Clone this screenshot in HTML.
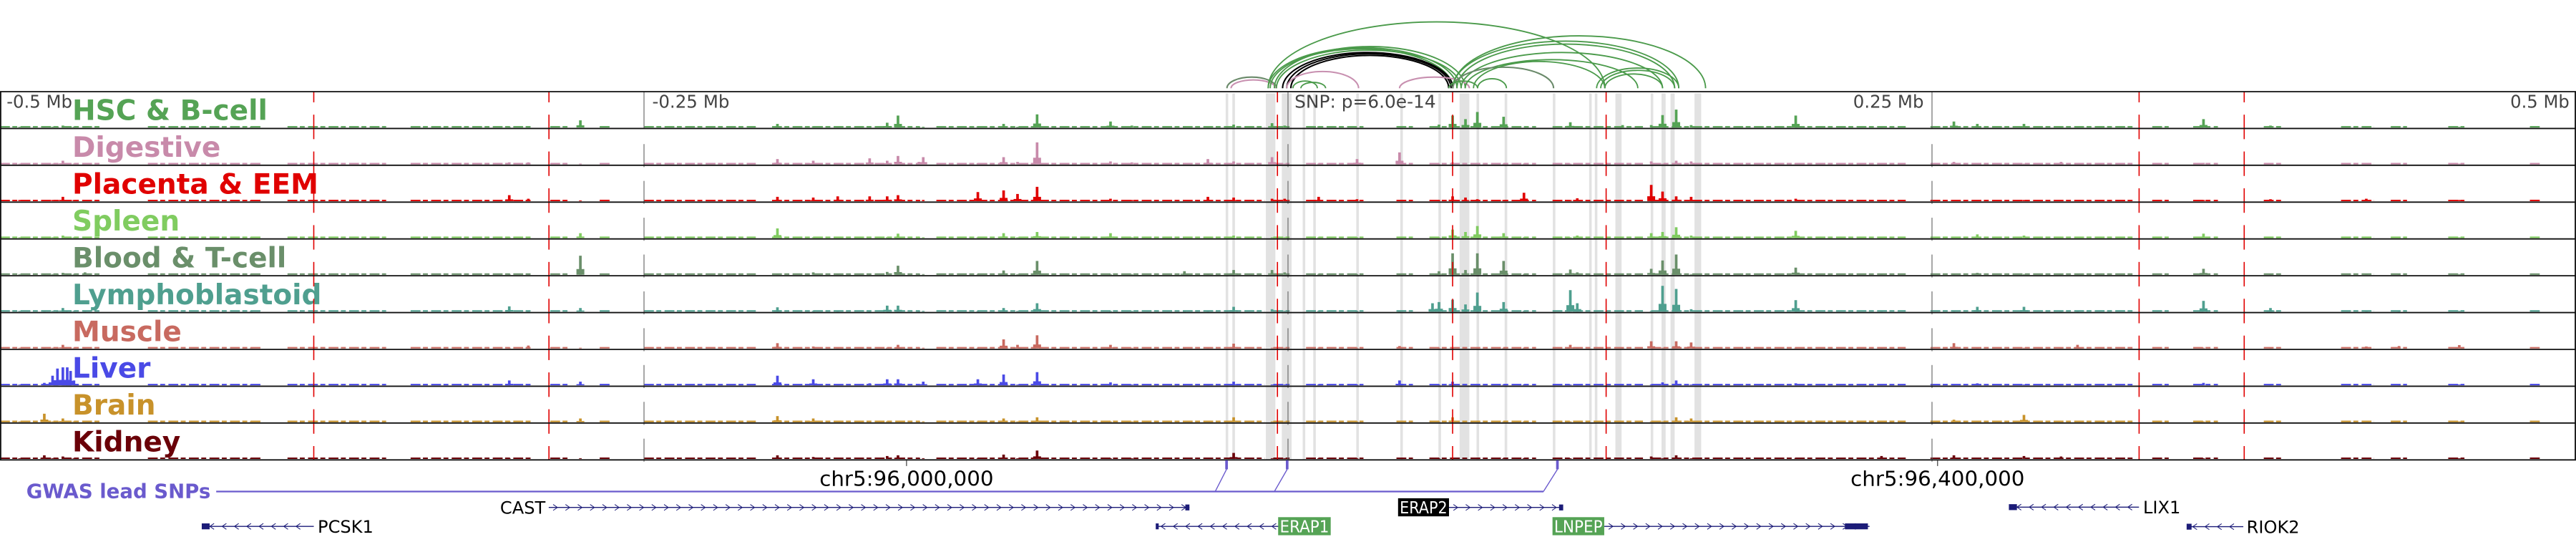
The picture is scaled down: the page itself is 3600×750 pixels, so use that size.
<!DOCTYPE html>
<html><head><meta charset="utf-8"><title>Locus tracks</title>
<style>
html,body{margin:0;padding:0;background:#fff;}
svg{display:block;}
text{font-family:"DejaVu Sans","Liberation Sans",sans-serif;}
</style></head>
<body>
<svg id="chart" width="3600" height="750" viewBox="0 0 1568 326.67" xmlns="http://www.w3.org/2000/svg">
<g id="bands"></g>
<g id="arcs"></g>
<g id="tracks"></g>
<g id="overlay"></g>
<g id="genes"></g>
</svg>
<script>
// ---- data (genomic offsets in kb relative to lead SNP) ----
const peakKb = [-492.4,-482.8,-479.6,-477.7,-475.6,-473.9,-472.6,-471.3,-467,-402.5,
 -302.3,-294.9,-274.7,-198.2,-184.3,-174.8,-162.4,-155.6,-151.4,-143.3,
 -141.6,-120.4,-110.4,-105,-97.4,-68.9,-60.6,-40.2,-31.1,-21.1,
 -6.2,-1.3,11.9,26.8,43.3,56.1,58.6,63.9,68.9,73.5,
 83.7,91.6,109.6,112.3,129.9,141,145.4,150.7,156.5,197.1,
 230.4,258.5,267.6,285.7,300.1,306.5,355.4,381.4,418.6,431.3,454.7];
const trackNames = ["HSC & B-cell","Digestive","Placenta & EEM","Spleen","Blood & T-cell","Lymphoblastoid","Muscle","Liver","Brain","Kidney"];
const hscVals = [3,3,3,3,8,3,3,3,3,3, 3,3,30,15,5,3,5,20,50,3, 3,5,15,3,55,25,8,5,3,12, 18,8,5,0,5,0,12,50,35,65, 45,0,22,5,10,10,52,75,10,50, 3,25,15,15,3,3,35,8,3,3,3];
const digVals = [3,3,3,3,15,3,3,3,3,3, 8,8,3,22,15,3,25,15,35,10, 30,5,30,10,92,12,8,3,22,12, 30,3,3,22,50,0,3,8,5,3, 3,3,3,3,3,12,3,15,12,5, 3,10,3,3,10,3,6,3,3,3,3];
const plaVals = [5,5,5,5,18,5,5,5,5,3, 25,10,3,18,15,20,20,20,25,5, 5,38,45,30,60,10,5,5,18,15, 10,10,18,8,3,0,5,20,15,8, 5,35,5,12,5,68,40,20,18,10, 5,5,5,5,5,5,5,8,10,3,5];
const splVals = [3,3,3,3,10,3,3,3,3,3, 3,3,20,40,3,3,3,3,18,3, 3,3,20,3,25,20,3,3,3,10, 3,3,3,3,3,0,3,35,25,50, 20,3,3,10,3,20,25,45,10,30, 3,3,15,10,3,3,18,3,3,3,3];
const bloVals = [3,3,3,3,8,3,3,3,10,3, 3,3,80,3,10,3,3,12,38,3, 3,3,18,3,58,3,3,15,3,20, 20,10,3,3,3,0,15,90,20,90, 58,3,22,10,3,25,60,85,3,30, 3,3,8,3,3,3,25,3,3,3,3];
const lymVals = [3,3,3,3,15,3,3,3,3,3, 22,3,15,18,3,3,3,25,25,3, 3,3,15,3,35,3,3,3,3,20, 10,3,3,3,3,35,40,50,30,80, 40,3,90,35,3,3,108,95,10,48, 3,3,20,20,3,3,45,15,3,3,3];
const musVals = [3,3,3,3,15,3,3,3,3,3, 3,12,3,22,8,3,3,3,15,3, 3,3,38,15,55,15,3,3,3,20, 3,3,3,3,10,0,3,3,3,3, 3,3,15,3,3,30,3,30,25,3, 3,22,3,3,3,15,3,3,8,10,14];
const livVals = [3,10,40,70,75,75,60,20,3,3, 20,3,15,40,25,3,8,25,25,3, 15,25,45,3,55,12,3,3,3,15, 3,3,3,3,20,0,3,15,3,3, 3,3,3,3,3,3,12,20,3,8, 3,3,8,3,3,3,10,3,3,3,3];
const braVals = [3,35,3,3,15,3,3,3,3,3, 3,3,15,25,15,3,3,3,3,3, 3,3,15,3,20,3,3,3,3,20, 3,3,3,3,3,0,3,20,3,3, 3,3,3,3,3,3,3,20,15,3, 3,10,3,30,3,3,3,3,3,3,3];
const kidVals = [3,15,3,3,10,3,3,3,3,3, 3,3,3,15,8,3,3,12,15,3, 3,3,18,3,35,3,3,3,3,25, 3,3,3,3,3,0,3,3,3,3, 3,3,3,3,3,10,3,15,3,3, 12,15,3,12,10,3,3,3,3,3,3];
const baseStartKb = [-500,-442.6,-388.4,-340.6,-286.4,-267.2,-250,-200.3,-136.5,-5.7,7,42.1,54.9,102.7,141,249.4,335.5,351.4,378.8,408.8,428.1,450.4,482.1];
const baseEndKb   = [-460.5,-398,-350.1,-292.8,-278.7,-262.8,-206.6,-142.9,-8.9,0.6,29.3,48.5,96.3,137.8,239.8,329.1,341.9,361,386.5,421.6,434.4,456.7,486.6];
const redLineKb = [-378.2,-286.9,-4.1,63.9,123.5,330.4,371.2];
const bandStartKb = [-24.2,-21.6,-8.6,-2.4,5.7,9.8,26.5,43.6,58.4,66.6,73.2,84.1,102.8,116.9,119.1,127.1,140.8,145,148.5,157.8];
const bandEndKb   = [-23.2,-20.6,-4.9,1.4,6.7,10.8,27.5,44.6,59.4,70.4,74.2,85.1,103.8,117.9,120.1,129.5,141.8,146.6,150.1,160.4];
const arcStartKb = [-23.7,-22.1,-7.7,-5.3,-6.9,-4.5,-7.7,-2.1,-0.5,1.1,-0.5,43.3,1.9,5,64,64,65.6,67.2,68.8,64,72,73.6,119.8,121.4,123,62.4];
const arcEndKb   = [-4.5,-4.8,123,68.8,64,67.2,65.6,64,63.3,62.4,27.4,70.4,11.4,14.6,162.1,151.7,150.1,145.4,135.8,103.1,123,84.8,151.7,150.1,145.4,73.6];
const arcScore   = [6.8,5.1,40.4,25.4,24,23.2,24.7,21.8,21,20,10.2,6.8,4.4,3.6,31.9,28.7,26.9,21.8,17.4,12.8,16.3,5.8,12.3,10.9,8.7,4.4];
const arcKind    = ["blood","dig","hsc","hsc","hsc","hsc","hsc","snp","snp","snp","dig","dig","hsc","hsc","hsc","hsc","hsc","hsc","hsc","blood","hsc","hsc","hsc","hsc","hsc","hsc"];

// ---- layout ----
const NS="http://www.w3.org/2000/svg";
const W=1568, T0=55.75, TH=22.4, NT=10, YBOT=T0+TH*NT;
const colors=["#55a355","#c88aaa","#e00000","#80cc60","#6a8f6a","#4f9f8f","#c86a60","#4a4ae6","#c8922a","#6a0008"];
const series=[hscVals,digVals,plaVals,splVals,bloVals,lymVals,musVals,livVals,braVals,kidVals];
const arcColor={hsc:"#4a9a4a",dig:"#c890b0",snp:"#000000",blood:"#6a8a6a"};
function xScale(kb){return 784+kb*1.568;}
function hScale(v){return v*0.145;}
function mk(tag,attrs,parent){const e=document.createElementNS(NS,tag);for(const k in attrs)e.setAttribute(k,attrs[k]);parent.appendChild(e);return e;}

// bands
const gB=document.getElementById('bands');
for(let i=0;i<bandStartKb.length;i++){
  const x1=xScale(bandStartKb[i]),x2=xScale(bandEndKb[i]);
  const r=mk('rect',{x:x1,y:T0+1,width:Math.max(x2-x1,0.8),height:YBOT-T0-1,fill:"#e2e2e2"},gB);
  
  
}
// arcs
const gA=document.getElementById('arcs');
const arcBase=53.7;
for(let i=0;i<arcStartKb.length;i++){
  const x1=xScale(arcStartKb[i]),x2=xScale(arcEndKb[i]);
  const rx=(x2-x1)/2, ry=arcScore[i];
  const p=mk('path',{d:`M${x1},${arcBase} A${rx},${ry} 0 0 1 ${x2},${arcBase}`,fill:"none",stroke:arcColor[arcKind[i]],"stroke-width":arcKind[i]==="snp"?0.9:(arcKind[i]==="hsc"?0.8:0.9)},gA);
  
  
}
// tracks
const gT=document.getElementById('tracks');
for(let t=0;t<NT;t++){
  const top=T0+t*TH, base=top+TH-0.6;
  const g=mk('g',{},gT);
  
  
  for(let s=0;s<baseStartKb.length;s++){
    const x1=xScale(baseStartKb[s]),x2=xScale(baseEndKb[s]);
    const l=mk('line',{x1:x1,x2:x2,y1:base-0.4,y2:base-0.4,stroke:colors[t],"stroke-width":0.9,"stroke-dasharray":"6 1.5 3 2"},g);
    
    
  }
  const vals=series[t];
  for(let i=0;i<peakKb.length;i++){
    const h=hScale(vals[i]); if(h<=0)continue;
    const x=xScale(peakKb[i]);
    const r=mk('rect',{x:x-0.8,y:base-h,width:1.6,height:h,fill:colors[t]},g);
    
    
    if(vals[i]>12){
      const r2=mk('rect',{x:x-2.4,y:base-h*0.3,width:4.8,height:h*0.3,fill:colors[t]},g);
      
      
    }
  }
  const lab=mk('text',{x:44,y:top+17.3,fill:colors[t],"font-size":17,"font-weight":"bold"},g);
  lab.textContent=trackNames[t];
  
  
}
// overlay: red dashed, ticks, borders
const gO=document.getElementById('overlay');
for(let t=0;t<NT;t++){
  const top=T0+t*TH;
  for(const kb of redLineKb){
    const x=xScale(kb);
    const a=mk('line',{x1:x,x2:x,y1:top,y2:top+6.5,stroke:"#e00000","stroke-width":0.7},gO);
    
    
    const b=mk('line',{x1:x,x2:x,y1:top+14,y2:top+TH,stroke:"#e00000","stroke-width":0.7},gO);
    
    
  }
  for(const kb of [-250,0,250]){
    const x=xScale(kb);
    const c=mk('line',{x1:x,x2:x,y1:top+(t===0?0:9.5),y2:top+(t===0?0:9.5)+ (t===0?TH:14),stroke:"#666","stroke-width":0.5},gO);
    
    
  }
}
for(let t=0;t<=NT;t++){
  const y=T0+t*TH;
  const l=mk('line',{x1:0,x2:W,y1:y,y2:y,stroke:"#111","stroke-width":0.8},gO);
  
  
}
mk('line',{x1:0.4,x2:0.4,y1:T0,y2:YBOT,stroke:"#111","stroke-width":0.8},gO);
mk('line',{x1:W-0.4,x2:W-0.4,y1:T0,y2:YBOT,stroke:"#111","stroke-width":0.8},gO);
const axisLabels=[["-0.5 Mb",4,40],["-0.25 Mb",397,47],["SNP: p=6.0e-14",788,86],["0.25 Mb",1128,43],["0.5 Mb",1528,36]];
for(const a of axisLabels){
  const tx=mk('text',{x:a[1],y:65.5,fill:"#444","font-size":11,textLength:a[2],lengthAdjust:"spacingAndGlyphs"},gO);
  tx.textContent=a[0];
  
  
}
</script>
<script>
// gene track
(function(){
const NS="http://www.w3.org/2000/svg";
const g=document.getElementById('genes');
function mk(tag,attrs){const e=document.createElementNS(NS,tag);for(const k in attrs)e.setAttribute(k,attrs[k]);g.appendChild(e);return e;}
const navy="#1c1c78", purple="#6a5acd";
let e;
e=mk('text',{x:16,y:303,fill:purple,"font-size":12,"font-weight":"bold"});e.textContent="GWAS lead SNPs";

e=mk('line',{x1:131.6,x2:939.5,y1:299,y2:299,stroke:purple,"stroke-width":1});

[[746.6,739.7],[783.5,775.7],[948,939.5]].forEach(function(s){
  const r=mk('rect',{x:s[0]-0.8,y:280,width:1.6,height:5.5,fill:purple});
  
  const l=mk('line',{x1:s[0],x2:s[1],y1:285.5,y2:299,stroke:purple,"stroke-width":0.6});
  
});
[[551.8,"chr5:96,000,000"],[1179.4,"chr5:96,400,000"]].forEach(function(c){
  const t=mk('line',{x1:c[0],x2:c[0],y1:280,y2:283.5,stroke:"#333","stroke-width":0.5});
  
  const tx=mk('text',{x:c[0],y:295.5,"text-anchor":"middle","font-size":12.5,fill:"#000",textLength:106,lengthAdjust:"spacingAndGlyphs"});
  tx.textContent=c[1];
});
function gene(name,x1,x2,y,dir,boxX,boxW,label){
  const l=mk('line',{x1:x1,x2:x2,y1:y,y2:y,stroke:navy,"stroke-width":0.6});
  
  for(let x=x1+4;x<x2-3;x+=7.5){
    const d=dir>0?`M${x-1.3},${y-1.8} L${x+1.3},${y} L${x-1.3},${y+1.8}`:`M${x+1.3},${y-1.8} L${x-1.3},${y} L${x+1.3},${y+1.8}`;
    const c=mk('path',{d:d,fill:"none",stroke:navy,"stroke-width":0.45});
    
  }
  const b=mk('rect',{x:boxX,y:y-1.8,width:boxW,height:3.6,fill:navy});
  
  if(label.type==='text'){
    const t=mk('text',{x:label.x,y:y+3.8,"font-size":10.5,fill:"#000","text-anchor":label.anchor});
    t.textContent=name;
  } else {
    const r=mk('rect',{x:label.x,y:y-5.6,width:label.w,height:11,fill:label.bg});
    
    const t=mk('text',{x:label.x+label.w/2,y:y+3.6,"font-size":10,fill:"#fff","text-anchor":"middle",textLength:label.w-2,lengthAdjust:"spacingAndGlyphs"});
    t.textContent=name;
  }
}
gene("CAST",334,724,308.7,1,721.5,2.5,{type:'text',x:332,anchor:'end'});
gene("PCSK1",125,191,320.2,-1,122.8,4.8,{type:'text',x:193.4,anchor:'start'});
gene("ERAP2",882,951,308.7,1,949,2.5,{type:'box',x:851,w:31,bg:"#000"});
gene("ERAP1",704,779,320.2,-1,703.5,1.8,{type:'box',x:778,w:32,bg:"#55a355"});
gene("LNPEP",976.5,1138,320.2,1,1123,14,{type:'box',x:945,w:31.5,bg:"#55a355"});
gene("LIX1",1225,1302,308.5,-1,1222.8,4.9,{type:'text',x:1304.5,anchor:'start'});
gene("RIOK2",1332,1365.5,320.4,-1,1331,3,{type:'text',x:1367.5,anchor:'start'});
})();
</script>
</body></html>
